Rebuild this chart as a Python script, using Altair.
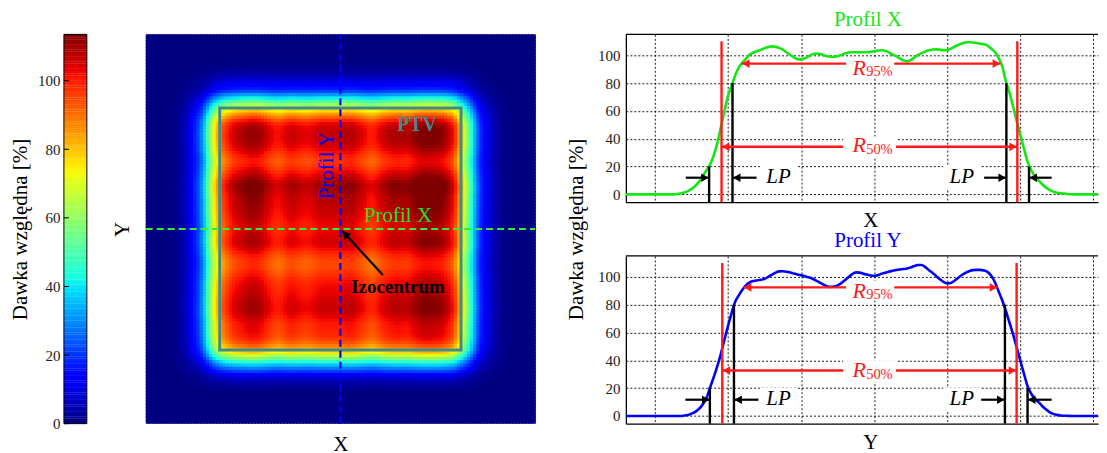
import altair as alt
import numpy as np
import pandas as pd

FONT = "Liberation Serif"

# ---------------- values ----------------
# sample positions along the profiles (mm, step 1)
U = list(range(-67, 66))

PROFIL_X = (
    [0] * 14
    + [0.3, 0.7, 1.4, 2.3, 4.0, 6.0, 9.0, 12.8, 17.0, 21.2,
       27.5, 36.5, 48, 60, 71, 78.5, 86, 91.5, 95, 98,
       100.6, 102, 103, 104, 105, 106, 106.4, 106, 105.3, 104,
       102, 100.2, 98.5, 97.2, 97, 97.8, 99.2, 100.6, 101.2, 101,
       100.2, 99.3, 98.9, 98.8, 99.3, 100.2, 101.2, 101.9, 102.2, 102.2,
       102.1, 102.1, 102.2, 102.4, 102.8, 103.3, 103.6, 103.3, 102, 100.5,
       99.3, 97.8, 96.3, 95.7, 96.5, 98.3, 100.2, 101.5, 102.6, 103.5,
       104.1, 104.2, 104, 103.7, 103.7, 104.8, 106.2, 107.4, 108.4, 109.1,
       109.3, 109.2, 108.8, 108.3, 107.9, 107, 104.8, 102.5, 98.5, 92.5,
       82, 73.5, 63.5, 53, 43, 33, 23.5, 17.5, 13, 10,
       7.3, 5, 3.3, 2.0, 1.2, 0.8, 0.6, 0.3, 0.1]
    + [0] * 10
)

PROFIL_Y = (
    [0] * 16
    + [0.3, 0.8, 1.7, 3.0, 5.0, 8.0, 12.5, 20, 27.5, 35.5,
       44.5, 55, 65, 74.5, 82.5, 87, 91, 94.2, 96.1, 97,
       97.5, 97.9, 98.6, 100, 101.6, 103, 103.9, 104, 103.7, 103.1,
       102.4, 101.7, 101.1, 100.5, 99.7, 98.8, 97.5, 96, 94.6, 93.3,
       92.8, 93, 93.9, 95.5, 97.6, 99.9, 102, 103.2, 103, 102.3,
       101.6, 101, 100.8, 101.2, 102.2, 103, 103.7, 104.3, 104.9, 105.3,
       105.6, 106, 106.8, 107.8, 108.5, 108.5, 107, 104.8, 102.8, 100.5,
       98.2, 96.3, 95.3, 95.6, 97.2, 99.3, 101.3, 102.9, 104, 104.8,
       105, 105, 104.6, 103.6, 101, 96.5, 90, 83.5, 76, 67.5,
       59, 49.5, 40, 30.5, 21.5, 16, 12.5, 10, 7.2, 4.8,
       2.8, 1.5, 0.8, 0.4, 0.2, 0.1]
    + [0] * 11
)

GRID_X = [-59, -39, -19, 1, 21, 41, 61]
Y_TICKS = [0, 20, 40, 60, 80, 100]
CB_TICKS = [0, 20, 40, 60, 80, 100]
DOSE_MAX = 113.5

# annotation values of the two profile panels (mm, %)
ANN_X = dict(
    red_x=[-40.8, 40.2], red_top=110,
    black_x=[-44.2, -37.8, 37.2, 43.4], black_y=[20, 80, 80, 20],
    r95=[-35.3, 35.6, 94.0], r50=[-40.8, 40.2, 34.2],
    lp_tail=[-50.6, -31.2, 31.1, 49.6], lp_tip=[-44.2, -37.8, 37.2, 43.4], lp_y=12.0,
    lp_lab_x=[-25.2, 25.0], lp_lab_y=12.8,
    r_lab_y=[91.0, 35.6], sub_lab_y=[87.8, 32.0],
    box_x0=[-6.7, -7.5, -30.3, 19.9], box_x1=[6.5, 7.0, -20.3, 30.1],
    box_y0=[84, 26, 4, 4], box_y1=[98.5, 41.5, 20.6, 20.6],
)
ANN_Y = dict(
    red_x=[-40.6, 40.0], red_top=110,
    black_x=[-44.0, -37.4, 36.8, 43.0], black_y=[20, 80, 80, 20],
    r95=[-34.8, 34.8, 92.4], r50=[-40.6, 40.0, 32.7],
    lp_tail=[-50.7, -30.7, 30.3, 49.6], lp_tip=[-44.0, -37.4, 36.8, 43.0], lp_y=11.7,
    lp_lab_x=[-25.2, 25.0], lp_lab_y=12.5,
    r_lab_y=[90.0, 33.4], sub_lab_y=[86.9, 29.8],
    box_x0=[-6.7, -7.5, -30.3, 19.9], box_x1=[6.5, 7.0, -20.3, 30.1],
    box_y0=[83, 24.5, 3.5, 3.5], box_y1=[97, 40, 20.3, 20.3],
)

# heat-map annotations (mm)
PTV_BOX = [-37.5, 37.5, -37.6, 37.6]
HEAT_RANGE = 60
HEAT_TEXT = ["PTV", "Profil X", "Profil Y", "Izocentrum"]
HEAT_TEXT_U = [23.8, 17.9, -4.3, 17.9]
HEAT_TEXT_V = [32.3, 4.1, 19.7, -17.9]
ARROW = [13.2, -14.3, 0.6, -0.6]   # tail u, tail v, tip u, tip v

# ---------------- styling ----------------
RED = "#ff1a1a"
GREEN = "#14e614"
BLUE = "#0000ff"
TEAL = "#3f8a8a"


def jet(t):
    r = np.interp(t, [0, 0.35, 0.66, 0.89, 1], [0, 0, 1, 1, 0.5])
    g = np.interp(t, [0, 0.125, 0.375, 0.64, 0.91, 1], [0, 0, 1, 1, 0, 0])
    b = np.interp(t, [0, 0.11, 0.34, 0.65, 1], [0.5, 1, 1, 0, 0])
    return "#%02x%02x%02x" % (int(round(r * 255)), int(round(g * 255)), int(round(b * 255)))


BP = [0, 0.11, 0.125, 0.34, 0.35, 0.375, 0.64, 0.65, 0.66, 0.89, 0.91, 1]
JET = alt.Scale(domain=[t * DOSE_MAX for t in BP], range=[jet(t) for t in BP],
                interpolate="rgb", clamp=True)

PW, PH = 473, 168
XS = alt.Scale(domain=[-67, 62.29], nice=False, zero=False)
YS = alt.Scale(domain=[-5.5, 115], nice=False, zero=False)


def ax_x(title, title_y):
    return alt.Axis(values=GRID_X, tickCount=20, grid=True, gridColor="black", gridDash=[2, 2],
                    gridWidth=1, gridOpacity=0.9, labels=False, ticks=False, domain=True,
                    domainColor="black", domainWidth=1.3, title=title, titleFont=FONT,
                    titleFontSize=21, titleFontWeight="normal", titleColor="black",
                    titleY=title_y, titleBaseline="middle", titleX=245)


def ax_y(title):
    kw = dict(values=Y_TICKS, tickCount=12, grid=True, gridColor="black", gridDash=[2, 2],
              gridWidth=1, gridOpacity=0.9, labels=True, labelFont=FONT, labelFontSize=15,
              labelColor="#222", labelPadding=6, labelOverlap=False, ticks=False, domain=True,
              domainColor="black", domainWidth=1.3)
    if title:
        kw.update(title=title, titleFont=FONT, titleFontSize=21, titleFontWeight="normal",
                  titleColor="black", titleX=-49, titleY=195, titleAngle=270, titleAlign="center",
                  titleBaseline="middle")
    else:
        kw.update(title=None)
    return alt.Axis(**kw)


def qx(f):
    return alt.X(f, type="quantitative", scale=XS)


def qy(f):
    return alt.Y(f, type="quantitative", scale=YS)


def profile(vals, color, title, xtitle, xtitle_y, a, ytitle):
    df = pd.DataFrame({"u": U, "val": vals})
    line = alt.Chart(df).mark_line(color=color, strokeWidth=2.6, interpolate="monotone",
                                   clip=True).encode(
        x=alt.X("u:Q", scale=XS, axis=ax_x(xtitle, xtitle_y)),
        y=alt.Y("val:Q", scale=YS, axis=ax_y(ytitle)))

    red = alt.Chart(pd.DataFrame({"x": a["red_x"], "y0": [-5.5] * 2, "y1": [a["red_top"]] * 2})
                    ).mark_rule(color=RED, strokeWidth=2.4).encode(x=qx("x"), y=qy("y0"), y2="y1")
    black = alt.Chart(pd.DataFrame({"x": a["black_x"], "y0": [-5.5] * 4, "y1": a["black_y"]})
                      ).mark_rule(color="black", strokeWidth=2.4).encode(x=qx("x"), y=qy("y0"), y2="y1")

    rr = pd.DataFrame({"x0": [a["r95"][0], a["r50"][0]], "x1": [a["r95"][1], a["r50"][1]],
                       "y": [a["r95"][2], a["r50"][2]]})
    rlines = alt.Chart(rr).mark_rule(color=RED, strokeWidth=2.4).encode(x=qx("x0"), x2="x1", y=qy("y"))

    boxes = alt.Chart(pd.DataFrame({"x0": a["box_x0"], "x1": a["box_x1"],
                                    "y0": a["box_y0"], "y1": a["box_y1"]})
                      ).mark_rect(color="white").encode(x=qx("x0"), x2="x1", y=qy("y0"), y2="y1")

    lp = pd.DataFrame({"x0": a["lp_tail"], "x1": a["lp_tip"], "y": [a["lp_y"]] * 4})
    lplines = alt.Chart(lp).mark_rule(color="black", strokeWidth=2.2).encode(
        x=qx("x0"), x2="x1", y=qy("y"))

    h = 1.15
    red_heads = pd.DataFrame({
        "x": [a["r95"][0] + h, a["r95"][1] - h, a["r50"][0] + h, a["r50"][1] - h],
        "y": [a["r95"][2], a["r95"][2], a["r50"][2], a["r50"][2]],
        "d": ["L", "R", "L", "R"]})
    bh_x, bh_d = [], []
    for t0, t1 in zip(a["lp_tail"], a["lp_tip"]):
        if t1 > t0:
            bh_x.append(t1 - h)
            bh_d.append("R")
        else:
            bh_x.append(t1 + h)
            bh_d.append("L")
    black_heads = pd.DataFrame({"x": bh_x, "y": [a["lp_y"]] * 4, "d": bh_d})
    shp = alt.Scale(domain=["L", "R"], range=["triangle-left", "triangle-right"])
    rh = alt.Chart(red_heads).mark_point(filled=True, size=75, color=RED, opacity=1).encode(
        x=qx("x"), y=qy("y"), shape=alt.Shape("d:N", scale=shp, legend=None))
    bhd = alt.Chart(black_heads).mark_point(filled=True, size=75, color="black", opacity=1).encode(
        x=qx("x"), y=qy("y"), shape=alt.Shape("d:N", scale=shp, legend=None))

    rtxt = alt.Chart(pd.DataFrame({"x": [-3.1, -3.1], "y": a["r_lab_y"], "t": ["R", "R"]})
                     ).mark_text(font=FONT, fontStyle="italic", fontSize=22, color=RED,
                                 align="center", baseline="middle").encode(
        x=qx("x"), y=qy("y"), text="t:N")
    stxt = alt.Chart(pd.DataFrame({"x": [-1.2, -1.2], "y": a["sub_lab_y"], "t": ["95%", "50%"]})
                     ).mark_text(font=FONT, fontSize=14.5, color=RED, align="left",
                                 baseline="middle").encode(x=qx("x"), y=qy("y"), text="t:N")
    lptxt = alt.Chart(pd.DataFrame({"x": a["lp_lab_x"], "y": [a["lp_lab_y"]] * 2, "t": ["LP", "LP"]})
                      ).mark_text(font=FONT, fontStyle="italic", fontSize=21, color="black",
                                  align="center", baseline="middle").encode(
        x=qx("x"), y=qy("y"), text="t:N")

    border = alt.Chart(pd.DataFrame({"k": [0]})).mark_rule(color="black", strokeWidth=1.3).encode(
        x=alt.value(0), x2=alt.value(PW), y=alt.value(0))

    return alt.layer(line, red, black, rlines, boxes, lplines, rh, bhd, rtxt, stxt, lptxt, border
                     ).properties(width=PW, height=PH,
                                  title=alt.TitleParams(title, color=color, font=FONT, fontSize=21,
                                                        fontWeight="normal", offset=4, dx=6))


# ---------------- heat map ----------------
idx = [i for i, u in enumerate(U) if -HEAT_RANGE <= u <= HEAT_RANGE]
us = np.array([U[i] for i in idx])
px = np.array([PROFIL_X[i] for i in idx], dtype=float)
py = np.array([PROFIL_Y[i] for i in idx], dtype=float)
dose = np.outer(py, px) / 100.0
uu, vv = np.meshgrid(us, us)
heat_df = pd.DataFrame({"u": uu.ravel(), "v": vv.ravel(), "d": np.round(dose.ravel(), 1)})

HEAT_W = 390
HEAT_GAP = 32   # extra empty room right of the map
HSX = alt.Scale(domain=[-HEAT_RANGE - 0.5, HEAT_RANGE + 0.5], nice=False, zero=False,
                range=[0, HEAT_W])
HSY = alt.Scale(domain=[-HEAT_RANGE - 0.5, HEAT_RANGE + 0.5], nice=False, zero=False)


def hx(f):
    return alt.X(f, type="quantitative", scale=HSX)


def hy(f):
    return alt.Y(f, type="quantitative", scale=HSY)


heat = alt.Chart(heat_df).transform_calculate(
    x0="datum.u-0.75", x1="datum.u+0.75", y0="datum.v-0.75", y1="datum.v+0.75"
).mark_rect(clip=True).encode(
    x=alt.X("x0:Q", scale=HSX, axis=alt.Axis(title="X", labels=False, ticks=False, domain=False,
                                              grid=False, titleFont=FONT, titleFontSize=21,
                                              titleFontWeight="normal", titleColor="black",
                                              titleY=21, titleX=HEAT_W / 2,
                                              titleBaseline="middle")),
    x2="x1:Q",
    y=alt.Y("y0:Q", scale=HSY, axis=alt.Axis(title="Y", labels=False, ticks=False, domain=False,
                                              grid=False, titleFont=FONT, titleFontSize=21,
                                              titleFontWeight="normal", titleColor="black",
                                              titleX=-23, titleY=195, titleAngle=270,
                                              titleAlign="center", titleBaseline="middle")),
    y2="y1:Q",
    color=alt.Color("d:Q", scale=JET, legend=None),
)

ptv = alt.Chart(pd.DataFrame({"x0": [PTV_BOX[0]], "x1": [PTV_BOX[1]], "y0": [PTV_BOX[2]],
                              "y1": [PTV_BOX[3]]})).mark_rect(
    fillOpacity=0, stroke=TEAL, strokeWidth=3).encode(x=hx("x0"), x2="x1", y=hy("y0"), y2="y1")

hline = alt.Chart(pd.DataFrame({"x0": [-HEAT_RANGE - 0.5], "x1": [HEAT_RANGE + 0.5], "y": [0]})
                  ).mark_rule(color="#33ee33", strokeWidth=2.2, strokeDash=[7, 4]).encode(
    x=hx("x0"), x2="x1", y=hy("y"))
vline = alt.Chart(pd.DataFrame({"x": [0], "y0": [-HEAT_RANGE - 0.5], "y1": [HEAT_RANGE + 0.5]})
                  ).mark_rule(color=BLUE, strokeWidth=2.2, strokeDash=[7, 4]).encode(
    x=hx("x"), y=hy("y0"), y2="y1")


def htext(i, color, angle=0, weight="normal", size=21):
    return alt.Chart(pd.DataFrame({"x": [HEAT_TEXT_U[i]], "y": [HEAT_TEXT_V[i]], "t": [HEAT_TEXT[i]]})
                     ).mark_text(font=FONT, fontSize=size, color=color, angle=angle,
                                 fontWeight=weight, align="center", baseline="middle").encode(
        x=hx("x"), y=hy("y"), text="t:N")


t_ptv = htext(0, TEAL, weight="bold", size=20)
t_px = htext(1, "#22e022")
t_py = htext(2, BLUE, angle=270)
t_iz = htext(3, "black", weight="bold", size=19)

arr = alt.Chart(pd.DataFrame({"x0": [ARROW[0]], "y0": [ARROW[1]], "x1": [ARROW[2]], "y1": [ARROW[3]]})
                ).mark_rule(color="black", strokeWidth=2.2).encode(
    x=hx("x0"), x2="x1", y=hy("y0"), y2="y1")
dvec = np.array([ARROW[0] - ARROW[2], ARROW[1] - ARROW[3]])
dvec = dvec / np.linalg.norm(dvec)
arr_head = alt.Chart(pd.DataFrame({"x": [ARROW[2] + 1.3 * dvec[0]], "y": [ARROW[3] + 1.3 * dvec[1]]})
                     ).mark_point(shape="triangle-up", filled=True, size=80, color="black",
                                  opacity=1, angle=317).encode(x=hx("x"), y=hy("y"))

heatmap = alt.layer(heat, ptv, hline, vline, t_ptv, t_px, t_py, t_iz, arr, arr_head
                    ).properties(width=HEAT_W + HEAT_GAP, height=390)

# ---------------- colour bar ----------------
CBS = alt.Scale(domain=[0, DOSE_MAX], nice=False, zero=False)
cb_df = pd.DataFrame({"lev": np.arange(0, DOSE_MAX, 0.5)})
cbar = alt.Chart(cb_df).transform_calculate(l2="datum.lev+0.6", mid="datum.lev+0.25").mark_rect(
    clip=True).encode(
    y=alt.Y("lev:Q", scale=CBS, axis=alt.Axis(values=CB_TICKS, tickCount=12, labels=True,
                                               labelFont=FONT, labelFontSize=15, labelColor="#222",
                                               labelPadding=4, labelOverlap=False,
                                               ticks=False, domain=False, grid=False,
                                               title="Dawka względna [%]", titleFont=FONT,
                                               titleFontSize=21, titleFontWeight="normal",
                                               titleColor="black", titleX=-43, titleY=195,
                                               titleAngle=270, titleAlign="center",
                                               titleBaseline="middle")),
    y2="l2:Q",
    x=alt.value(0), x2=alt.value(23),
    color=alt.Color("mid:Q", scale=JET, legend=None),
)
cb_ticks = alt.Chart(pd.DataFrame({"t": CB_TICKS})).mark_rule(color="black", strokeWidth=1).encode(
    y=alt.Y("t:Q", scale=CBS), x=alt.value(0), x2=alt.value(5))
cb_border = alt.Chart(pd.DataFrame({"k": [0]})).mark_rect(
    fillOpacity=0, stroke="black", strokeWidth=1).encode(
    x=alt.value(0), x2=alt.value(23), y=alt.value(0), y2=alt.value(390))
colorbar = alt.layer(cbar, cb_ticks, cb_border).properties(width=23, height=390)

# ---------------- profiles ----------------
top = profile(PROFIL_X, GREEN, "Profil X", "X", 18, ANN_X, "Dawka względna [%]")
bot = profile(PROFIL_Y, BLUE, "Profil Y", "Y", 19, ANN_Y, None)

right = alt.vconcat(top, bot, spacing=54, bounds="flush")
chart = alt.hconcat(colorbar, heatmap, right, spacing=59, bounds="flush").properties(
    padding={"left": 2, "top": 0, "right": 0, "bottom": 0}
).configure_view(stroke=None)

chart.save("out.html", embed_options={"renderer": "svg", "actions": False})
